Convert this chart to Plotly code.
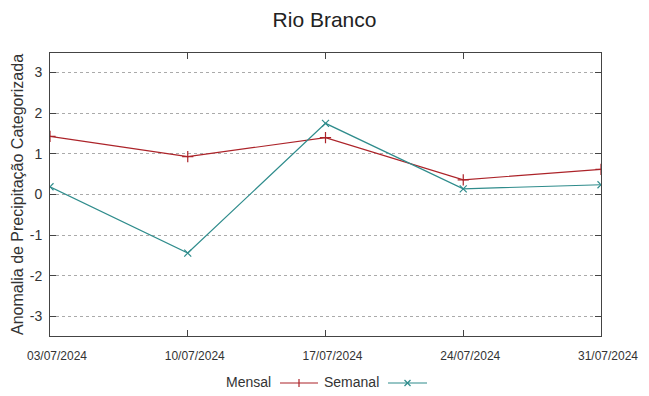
import plotly.graph_objects as go

dates = ["03/07/2024", "10/07/2024", "17/07/2024", "24/07/2024", "31/07/2024"]
mensal = [1.43, 0.93, 1.40, 0.36, 0.62]
semanal = [0.19, -1.44, 1.75, 0.14, 0.24]
yticks = [-3, -2, -1, 0, 1, 2, 3]
yticklabels = ["-3", "-2", "-1", "0", "1", "2", "3"]

RED = "#ac2329"
TEAL = "#2f8c8c"
W, H = 649, 396
L, R, T, B = 50, 601, 53, 336  # plot frame in pixels


def px(x):
    return (x - L) / (R - L)


def py(y):
    return (B - y) / (B - T)


fig = go.Figure()
fig.add_trace(go.Scatter(x=dates, y=mensal, name="Mensal", mode="lines+markers",
                         line=dict(color=RED, width=1.2),
                         marker=dict(symbol="cross-thin", size=8, line=dict(color=RED, width=1.2))))
fig.add_trace(go.Scatter(x=dates, y=semanal, name="Semanal", mode="lines+markers",
                         line=dict(color=TEAL, width=1.2),
                         marker=dict(symbol="x-thin", size=7, line=dict(color=TEAL, width=1.2))))

# gnuplot-style legend: text then line sample with marker
legend_items = [("Mensal", RED, "plus", 273, 280, 318),
                ("Semanal", TEAL, "x", 381, 388, 427)]
ly = 383
for name, col, sym, tx, x0, x1 in legend_items:
    fig.add_annotation(text=name, xref="paper", yref="paper",
                       x=px(tx), y=py(ly - 1), xanchor="right", yanchor="middle",
                       showarrow=False, font=dict(size=14, color="#333"))
    fig.add_shape(type="line", xref="paper", yref="paper",
                  x0=px(x0), x1=px(x1), y0=py(ly), y1=py(ly),
                  line=dict(color=col, width=1.2))
    cx = (x0 + x1) / 2
    if sym == "plus":
        segs = [(cx, ly - 4, cx, ly + 4)]
    else:
        segs = [(cx - 3, ly - 3, cx + 3, ly + 3), (cx - 3, ly + 3, cx + 3, ly - 3)]
    for a, b, c, d in segs:
        fig.add_shape(type="line", xref="paper", yref="paper",
                      x0=px(a), y0=py(b), x1=px(c), y1=py(d),
                      line=dict(color=col, width=1.2))

fig.update_layout(
    width=W, height=H,
    paper_bgcolor="white", plot_bgcolor="white",
    margin=dict(l=L, r=W - R, t=T, b=H - B, autoexpand=False),
    showlegend=False,
    title=dict(text="Rio Branco", x=0.5, xanchor="center", y=0.95, yanchor="middle",
               font=dict(family="Liberation Sans", size=21, color="#222")),
    font=dict(family="Liberation Sans", color="#333"),
    xaxis=dict(type="category", range=[0, 4], showgrid=False, automargin=False,
               showline=True, mirror="ticks", linecolor="#444", linewidth=1,
               ticks="inside", ticklen=6, tickcolor="#444",
               ticklabelstandoff=9, ticklabelshift=7,
               tickfont=dict(family="Liberation Sans", size=12, color="#333"),
               zeroline=False),
    yaxis=dict(range=[-3.48, 3.48], tickvals=yticks, ticktext=yticklabels,
               showgrid=True, automargin=False,
               gridcolor="#aaaaaa", griddash="dot", gridwidth=1,
               showline=True, mirror="ticks", linecolor="#444", linewidth=1,
               ticks="inside", ticklen=6, tickcolor="#444",
               ticklabelstandoff=4,
               tickfont=dict(size=14, color="#333"), zeroline=False,
               title=dict(text="Anomalia de Precipitação Categorizada", standoff=2,
                          font=dict(size=16, color="#333"))),
)

fig.write_html("out.html", config={"displayModeBar": False},
               post_script="document.body.style.margin='0';")
